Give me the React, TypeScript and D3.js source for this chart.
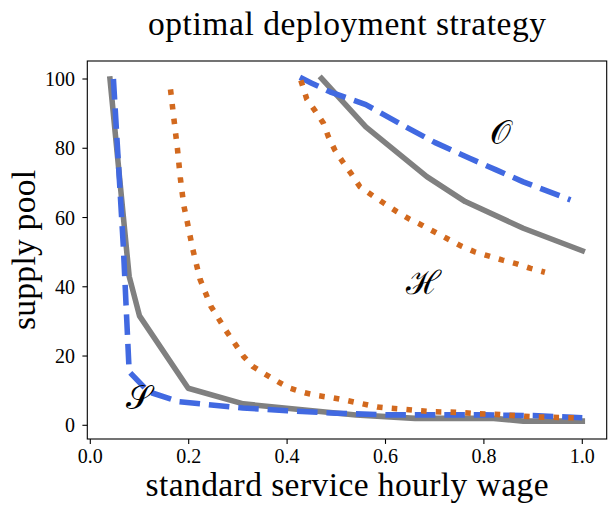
import React from "react";
import * as d3 from "d3";

type Pt = [number, number];

// wage (x) vs supply pool (y)
const graySLow: Pt[] = [[0.04, 100], [0.079, 43], [0.1, 31.6], [0.199, 10.7], [0.311, 6.2], [0.42, 4.6], [0.54, 3.0], [0.66, 2.0], [0.82, 2.0], [0.88, 1.2], [1.0, 1.2]];
const blueSLow: Pt[] = [[0.047, 100], [0.067, 52], [0.079, 15.5], [0.118, 9.7], [0.18, 6.8], [0.31, 5.0], [0.4, 4.2], [0.5, 3.5], [0.6, 3.0], [0.8, 3.0], [0.9, 2.8], [1.0, 2.2]];
const orangeSLow: Pt[] = [
  [0.163, 97], [0.17, 88.4], [0.177, 80], [0.183, 71.4], [0.19, 63.5], [0.197, 58.8], [0.208, 51], [0.223, 42.2],
  [0.245, 34.4], [0.276, 27.3], [0.311, 20], [0.33, 17], [0.355, 14.8], [0.381, 12.6], [0.406, 10.7], [0.436, 9.4],
  [0.465, 8.5], [0.494, 7.9], [0.524, 7.1], [0.553, 6.2], [0.583, 5.3], [0.612, 4.9], [0.641, 4.6], [0.672, 4.2],
  [0.701, 3.9], [0.732, 3.8], [0.762, 3.6], [0.791, 3.3], [0.822, 3.2], [0.851, 2.9], [0.882, 2.6], [0.91, 2.4],
  [0.94, 2.3], [0.97, 2.2], [1.0, 2.1],
];
const grayHigh: Pt[] = [[0.47, 100.2], [0.56, 86.2], [0.684, 71.8], [0.762, 64.6], [0.88, 56.9], [1.0, 50.4]];
const blueHigh: Pt[] = [[0.426, 100.5], [0.45, 98.8], [0.487, 96.3], [0.56, 92.6], [0.646, 85.8], [0.7, 81.7], [0.771, 77.1], [0.826, 73.7], [0.88, 70.3], [0.976, 65.1]];
const orangeHigh: Pt[] = [
  [0.428, 99.6], [0.44, 94.2], [0.457, 90.8], [0.474, 87.2], [0.484, 83.3], [0.497, 79.5], [0.514, 75.9], [0.531, 72.5],
  [0.548, 68.9], [0.572, 66.5], [0.597, 64.1], [0.623, 61.7], [0.648, 59.6], [0.674, 57.8], [0.724, 54.0], [0.753, 51.8],
  [0.781, 50.1], [0.809, 48.9], [0.838, 47.7], [0.867, 46.6], [0.895, 45.3], [0.924, 44.2],
];

const xTicks = [0, 0.2, 0.4, 0.6, 0.8, 1.0];
const yTicks = [0, 20, 40, 60, 80, 100];

const labels: { text: string; x: number; y: number }[] = [
  { text: "\u{1D4AA}", x: 0.833, y: 84.4 },
  { text: "\u210B", x: 0.678, y: 41.1 },
  { text: "\u{1D4AE}", x: 0.099, y: 7.9 },
];

const W = 615, H = 513;
const left = 87.3, right = 606.7, top = 61, bottom = 439;
const FONT = "'Liberation Serif', 'DejaVu Serif', serif";

export default function App() {
  const x = d3.scaleLinear().domain([-0.0061, 1.0496]).range([left, right]);
  const y = d3.scaleLinear().domain([-3.96, 105.2]).range([bottom, top]);
  const line = d3.line<Pt>().x((d) => x(d[0])).y((d) => y(d[1]));
  const lw = 5.56;
  const gray = "#808080", blue = "#4169e1", orange = "#d2691e";

  const series = [
    { d: graySLow, c: gray, dash: undefined as string | undefined, cap: "square" },
    { d: grayHigh, c: gray, dash: undefined, cap: "square" },
    { d: blueSLow, c: blue, dash: `${3.7 * lw} ${1.6 * lw}`, cap: "butt" },
    { d: blueHigh, c: blue, dash: `${3.7 * lw} ${1.6 * lw}`, cap: "butt" },
    { d: orangeSLow, c: orange, dash: `${1 * lw} ${1.65 * lw}`, cap: "butt" },
    { d: orangeHigh, c: orange, dash: `${1 * lw} ${1.65 * lw}`, cap: "butt" },
  ];

  return (
    <svg width={W} height={H} style={{ position: "absolute", left: 0, top: 0, background: "#fff" }} fontFamily={FONT}>
      <rect x={0} y={0} width={W} height={H} fill="#fff" />
      <defs>
        <clipPath id="plot">
          <rect x={left} y={top} width={right - left} height={bottom - top} />
        </clipPath>
      </defs>
      <g clipPath="url(#plot)">
        {series.map((s, i) => (
          <path
            key={i}
            d={line(s.d) || ""}
            fill="none"
            stroke={s.c}
            strokeWidth={lw}
            strokeDasharray={s.dash}
            strokeLinecap={s.cap as any}
            strokeLinejoin="round"
          />
        ))}
      </g>
      {labels.map((l, i) => (
        <text key={i} x={x(l.x)} y={y(l.y)} fontSize={33} textAnchor="middle" dominantBaseline="central" fill="#000">
          {l.text}
        </text>
      ))}
      <rect x={left} y={top} width={right - left} height={bottom - top} fill="none" stroke="#000" strokeWidth={1.1} />
      {xTicks.map((t) => (
        <g key={"x" + t}>
          <line x1={x(t)} x2={x(t)} y1={bottom} y2={bottom + 4.9} stroke="#000" strokeWidth={1.1} />
          <text x={x(t)} y={463} fontSize={20} textAnchor="middle" fill="#000">
            {t.toFixed(1)}
          </text>
        </g>
      ))}
      {yTicks.map((t) => (
        <g key={"y" + t}>
          <line x1={left - 4.9} x2={left} y1={y(t)} y2={y(t)} stroke="#000" strokeWidth={1.1} />
          <text x={75} y={y(t)} fontSize={20} textAnchor="end" dominantBaseline="central" fill="#000">
            {String(t)}
          </text>
        </g>
      ))}
      <text x={(left + right) / 2} y={496} fontSize={33.5} textAnchor="middle" textLength={403} lengthAdjust="spacing" fill="#000">
        standard service hourly wage
      </text>
      <text transform={`translate(35,250) rotate(-90)`} fontSize={33.5} textAnchor="middle" textLength={160} lengthAdjust="spacing" fill="#000">
        supply pool
      </text>
      <text x={(left + right) / 2} y={35} fontSize={33.5} textAnchor="middle" textLength={398} lengthAdjust="spacing" fill="#000">
        optimal deployment strategy
      </text>
    </svg>
  );
}
